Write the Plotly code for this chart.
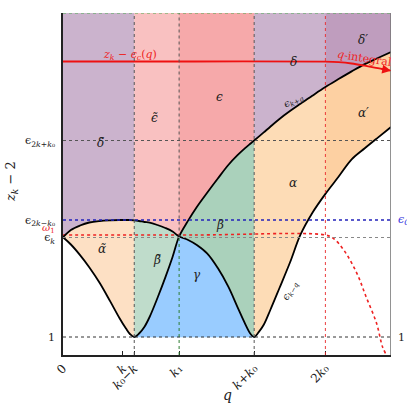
import numpy as np
import plotly.graph_objects as go

# ---------------- data ----------------
q = [0, 0.06, 0.13, 0.2, 0.28, 0.36, 0.43, 0.48, 0.51, 0.543, 0.58, 0.62, 0.66, 0.72,
     0.78, 0.835, 0.885, 0.95, 1.02, 1.1, 1.18, 1.26, 1.33, 1.39, 1.43, 1.457, 1.49,
     1.53, 1.58, 1.65, 1.73, 1.81, 1.9, 2.0, 2.1, 2.2, 2.3, 2.4, 2.5]
eps_kpq = [1.997, 1.925, 1.819, 1.698, 1.54, 1.356, 1.19, 1.084, 1.03, 1.0, 1.035, 1.10,
           1.20, 1.39, 1.596, 1.80, 2.005, 2.156, 2.30, 2.445, 2.585, 2.72, 2.818, 2.891,
           2.935, 2.965, 3.001, 3.046, 3.103, 3.18, 3.259, 3.332, 3.413, 3.50, 3.579,
           3.656, 3.729, 3.79, 3.85]
eps_kmq = [1.997, 2.07, 2.115, 2.145, 2.16, 2.167, 2.17, 2.17, 2.17, 2.167, 2.16, 2.15,
           2.144, 2.12, 2.09, 2.055, 2.005, 1.973, 1.92, 1.834, 1.689, 1.503, 1.299, 1.127,
           1.03, 1.0, 1.046, 1.122, 1.27, 1.49, 1.745, 2.023, 2.24, 2.431, 2.602, 2.776,
           2.887, 2.994, 3.10]

omega_q = [0, 1.0, 2.0, 2.06, 2.14, 2.24, 2.31, 2.39, 2.435, 2.465]
omega_y = [2.02, 2.02, 2.02, 1.987, 1.87, 1.637, 1.403, 1.137, 0.903, 0.82]

zc_q = [0, 1.0, 2.0, 2.1, 2.2, 2.3, 2.4, 2.5]
zc_y = [3.755, 3.755, 3.753, 3.748, 3.735, 3.713, 3.688, 3.663]

x_tick_vals = [0, 0.457, 0.543, 0.885, 1.457, 2.0]
x_tick_text = ["0", "<i>k</i>", "<i>k</i>₀−<i>k</i>", "<i>k</i>₁", "<i>k</i>+<i>k</i>₀", "2<i>k</i>₀"]
y_tick_vals = [1.0, 1.995, 2.17, 2.965]
y_tick_text = ["1", "ϵ<sub><i>k</i></sub>", "ϵ<sub>2<i>k</i>−<i>k</i>₀</sub>", "ϵ<sub>2<i>k</i>+<i>k</i>₀</sub>"]
omega1 = 2.02
X_RANGE = [0, 2.5]
Y_RANGE = [0.82, 4.24]

region_labels = ["δ̃", "ϵ̃", "ϵ", "δ", "δ′", "α′", "α", "β", "β̃", "γ", "α̃"]
region_x = [0.289, 0.70, 1.19, 1.754, 2.287, 2.287, 1.754, 1.196, 0.714, 1.018, 0.295]
region_y = [2.937, 3.187, 3.403, 3.753, 3.97, 3.243, 2.537, 2.12, 1.77, 1.62, 1.877]

# ---------------- helpers ----------------
Q = np.array(q)
A = np.array(eps_kpq)
B = np.array(eps_kmq)
K0K, KK, K1, KPK, TK0 = x_tick_vals[2], x_tick_vals[1], x_tick_vals[3], x_tick_vals[4], x_tick_vals[5]
XMAX = X_RANGE[1]
YTOP, YBOT = Y_RANGE[1], Y_RANGE[0]


def seg(lo, hi):
    return (Q >= lo - 1e-9) & (Q <= hi + 1e-9)


fig = go.Figure()


def poly(xs, ys, color):
    fig.add_trace(go.Scatter(x=xs, y=ys, mode="lines", fill="toself", fillcolor=color,
                             line=dict(width=0.6, color=color), hoverinfo="skip",
                             showlegend=False))


def band_top(lo, hi, curve, color):
    m = seg(lo, hi)
    poly(list(Q[m]) + [hi, lo], list(curve[m]) + [YTOP, YTOP], color)


def band_between(lo, hi, upper, lower, color):
    m = seg(lo, hi)
    poly(list(Q[m]) + list(Q[m][::-1]), list(upper[m]) + list(lower[m][::-1]), color)


PURPLE = "#cbb3cd"
PURPLE2 = "#bf9dbe"
PINK = "#f9c1c1"
SALMON = "#f6a9aa"
ORANGE_L = "#fde0c4"
ORANGE = "#fddcb6"
ORANGE2 = "#fdd0a2"
GREEN_L = "#bfdccb"
GREEN = "#aad1bb"
BLUE = "#99ccff"

band_top(0, K0K, B, PURPLE)
band_between(0, K0K, B, A, ORANGE_L)
band_top(K0K, K1, B, PINK)
band_between(K0K, K1, B, A, GREEN_L)
band_top(K1, KPK, A, SALMON)
band_between(K1, KPK, A, B, GREEN)
m1 = seg(K0K, K1)
m2 = seg(K1, KPK)
poly(list(Q[m1]) + list(Q[m2][1:]) + [KPK, K0K],
     list(A[m1]) + list(B[m2][1:]) + [y_tick_vals[0], y_tick_vals[0]], BLUE)
band_top(KPK, TK0, A, PURPLE)
band_between(KPK, TK0, A, B, ORANGE)
band_top(TK0, XMAX, A, PURPLE2)
band_between(TK0, XMAX, A, B, ORANGE2)

# ---------------- dotted guide lines ----------------
shapes = []
def hline(y, color, width=1.0, dash="dot"):
    shapes.append(dict(type="line", xref="x", yref="y", x0=X_RANGE[0], x1=XMAX, y0=y, y1=y,
                       line=dict(color=color, width=width, dash=dash)))

def vline(x, y0, y1, color, width=1.0, dash="dot"):
    shapes.append(dict(type="line", xref="x", yref="y", x0=x, x1=x, y0=y0, y1=y1,
                       line=dict(color=color, width=width, dash=dash)))

hline(y_tick_vals[3], "#555555")
hline(y_tick_vals[1], "#888888", 1.2)
hline(y_tick_vals[0], "#333333")
hline(y_tick_vals[2], "#2222bb", 1.6)
vline(K0K, YBOT, YTOP, "#555555")
k1_cross = A[seg(K1, K1)][0]
vline(K1, k1_cross, YTOP, "#555555")
vline(K1, YBOT, k1_cross, "#2e7d32")
vline(KPK, YBOT, YTOP, "#555555")
vline(TK0, YBOT, YTOP, "#e8292b", 0.9)
hline(YTOP, "#4caf50", 1.2)
vline(XMAX, YBOT, YTOP, "#777777", 1.6, "solid")

fig.add_trace(go.Scatter(x=omega_q, y=omega_y, mode="lines",
                         line=dict(color="#ee2222", width=1.6, dash="dot", shape="spline"),
                         hoverinfo="skip", showlegend=False))

# ---------------- curves ----------------
fig.add_trace(go.Scatter(x=q, y=eps_kpq, mode="lines",
                         line=dict(color="black", width=1.8, shape="spline", smoothing=1.0),
                         hoverinfo="skip", showlegend=False))
fig.add_trace(go.Scatter(x=q, y=eps_kmq, mode="lines",
                         line=dict(color="black", width=1.8, shape="spline", smoothing=1.0),
                         hoverinfo="skip", showlegend=False))
fig.add_trace(go.Scatter(x=zc_q, y=zc_y, mode="lines",
                         line=dict(color="#ee1111", width=1.8, shape="spline"),
                         hoverinfo="skip", showlegend=False))

annotations = []
annotations.append(dict(x=zc_q[-1], y=zc_y[-1], ax=zc_q[-2], ay=zc_y[-2], xref="x", yref="y",
                        axref="x", ayref="y", showarrow=True, arrowhead=2, arrowsize=1.1,
                        arrowwidth=1.6, arrowcolor="#ee1111", text=" "))

SERIF = "DejaVu Serif"
for t, x, y in zip(region_labels, region_x, region_y):
    annotations.append(dict(x=x, y=y, xref="x", yref="y", text="<i>%s</i>" % t, showarrow=False,
                            font=dict(family=SERIF, size=12, color="#222222")))

annotations += [
    dict(x=0.51, y=3.82, xref="x", yref="y", text="<i>z<sub>k</sub></i> − <i>ϵ<sub>c</sub></i>(<i>q</i>)",
         showarrow=False, font=dict(family=SERIF, size=11, color="#ee2222")),
    dict(x=2.30, y=3.79, xref="x", yref="y", text="<i>q</i>-integral", textangle=9,
         showarrow=False, font=dict(family=SERIF, size=11, color="#ee2222")),
    dict(x=1.76, y=3.37, xref="x", yref="y", text="<i>ϵ<sub>k+q</sub></i>", textangle=-28,
         showarrow=False, font=dict(family=SERIF, size=10, color="#222222")),
    dict(x=1.73, y=1.47, xref="x", yref="y", text="<i>ϵ<sub>k−q</sub></i>", textangle=-62,
         showarrow=False, font=dict(family=SERIF, size=10, color="#222222")),
    dict(x=-0.018, y=omega1 + 0.065, xref="paper", yref="y", xanchor="right",
         text="<i>ω</i><sub>1</sub>", showarrow=False, font=dict(family=SERIF, size=10, color="#ee2222")),
    dict(x=1.015, y=y_tick_vals[2], xref="paper", yref="y", xanchor="left",
         text="<i>ϵ<sub>C</sub></i>", showarrow=False, font=dict(family=SERIF, size=11, color="#3333dd")),
    dict(x=1.015, y=y_tick_vals[0], xref="paper", yref="y", xanchor="left",
         text="1", showarrow=False, font=dict(family=SERIF, size=11, color="#222222")),
    dict(x=-0.155, y=0.506, xref="paper", yref="paper", xanchor="center", yanchor="middle",
         text="<i>z<sub>k</sub></i> − 2", textangle=-90,
         showarrow=False, font=dict(family=SERIF, size=13, color="#222222")),
    dict(x=0.503, y=-0.117, xref="paper", yref="paper", xanchor="center", yanchor="middle",
         text="<i>q</i>", showarrow=False, font=dict(family=SERIF, size=14, color="#222222")),
]

fig.update_layout(
    width=407, height=407,
    margin=dict(l=63, r=16, t=13, b=52, autoexpand=False),
    paper_bgcolor="white", plot_bgcolor="white",
    shapes=shapes, annotations=annotations, showlegend=False,
    font=dict(family=SERIF, size=11, color="#222222"),
    xaxis=dict(range=X_RANGE, showgrid=False, zeroline=False, showline=True, linecolor="#222222",
               linewidth=1.6, tickmode="array", tickvals=x_tick_vals, ticktext=x_tick_text,
               tickangle=-45, ticks="inside", ticklen=4, tickcolor="#222222", automargin=False,
               tickfont=dict(family=SERIF, size=12)),
    yaxis=dict(range=Y_RANGE, showgrid=False, zeroline=False, showline=True, linecolor="#222222",
               linewidth=1.6, tickmode="array", tickvals=y_tick_vals, ticktext=y_tick_text,
               ticks="", automargin=False, tickfont=dict(family=SERIF, size=11), ticklabelstandoff=4),
)

fig.write_html("out.html", config={"displayModeBar": False},
               post_script="document.body.style.margin='0px';document.body.style.padding='0px';")
